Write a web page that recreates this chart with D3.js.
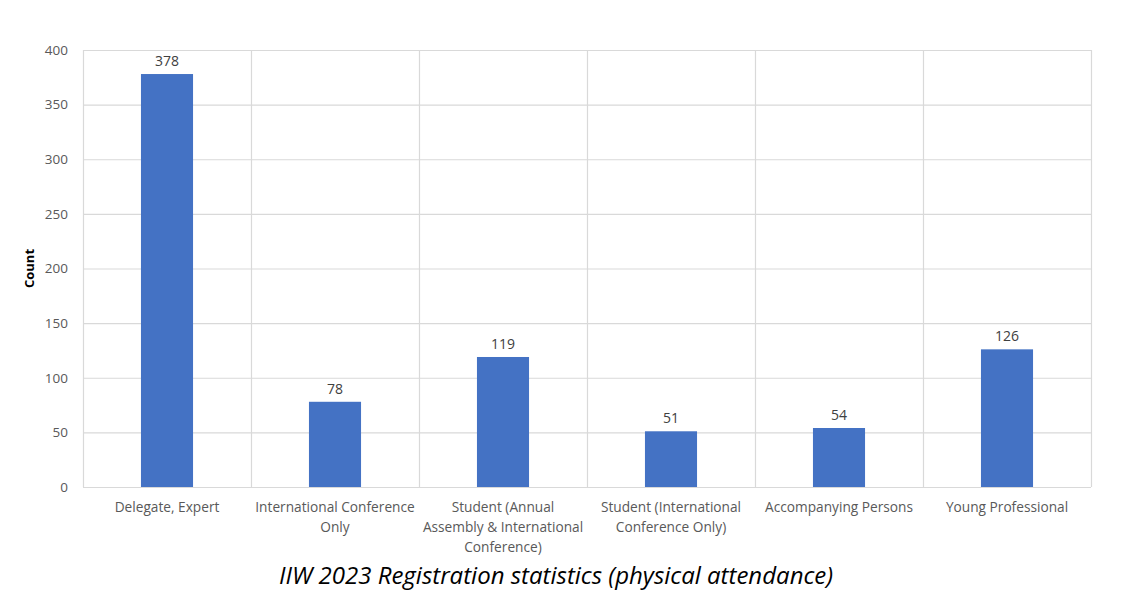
<!DOCTYPE html>
<html><head><meta charset="utf-8">
<script src="https://cdn.jsdelivr.net/npm/d3@7"></script>
<style>
html,body{margin:0;padding:0;background:#fff;}
svg{display:block;}
</style></head>
<body>
<svg id="chart" width="1126" height="595"></svg>
<script>
const categories = [
  "Delegate, Expert",
  "International Conference\nOnly",
  "Student (Annual\nAssembly & International\nConference)",
  "Student (International\nConference Only)",
  "Accompanying Persons",
  "Young Professional"
];
const counts = [378, 78, 119, 51, 54, 126];
const yTicks = [0, 50, 100, 150, 200, 250, 300, 350, 400];
const yTitle = "Count";
const caption = "IIW 2023 Registration statistics (physical attendance)";

const svg = d3.select("#chart");
const margin = {left: 83, top: 50, right: 1126 - 1091, bottom: 595 - 487};
const W = 1126 - margin.left - margin.right;
const H = 595 - margin.top - margin.bottom;
const g = svg.append("g").attr("transform", `translate(${margin.left},${margin.top})`);

const x = d3.scaleBand().domain(categories).range([0, W]).paddingInner(0).paddingOuter(0);
const y = d3.scaleLinear().domain([0, 400]).range([H, 0]);
const font = "'Open Sans', 'Segoe UI', sans-serif";

// horizontal gridlines
g.selectAll("line.hg").data(yTicks).enter().append("line")
  .attr("x1", 0).attr("x2", W)
  .attr("y1", d => y(d) + 0.5).attr("y2", d => y(d) + 0.5)
  .attr("stroke", "#d9d9d9").attr("stroke-width", 1.2);
// vertical gridlines at category boundaries
const bounds = categories.map(c => x(c)).concat([W]);
g.selectAll("line.vg").data(bounds).enter().append("line")
  .attr("x1", d => d + 0.5).attr("x2", d => d + 0.5)
  .attr("y1", 0).attr("y2", H)
  .attr("stroke", "#d9d9d9").attr("stroke-width", 1.2);

// bars
const barW = x.bandwidth() * 0.31;
g.selectAll("rect.bar").data(counts).enter().append("rect")
  .attr("x", (d, i) => x(categories[i]) + x.bandwidth() / 2 - barW / 2)
  .attr("y", d => y(d))
  .attr("width", barW)
  .attr("height", d => H - y(d))
  .attr("fill", "#4472C4");

// data labels
g.selectAll("text.val").data(counts).enter().append("text")
  .attr("x", (d, i) => x(categories[i]) + x.bandwidth() / 2)
  .attr("y", d => y(d) - 8)
  .attr("text-anchor", "middle")
  .attr("font-family", font).attr("font-size", 14)
  .attr("fill", "#404040")
  .text(d => d);

// y axis labels
const yAxis = d3.axisLeft(y).tickValues(yTicks).tickSize(0).tickPadding(15);
const ya = g.append("g").call(yAxis);
ya.select(".domain").remove();
ya.selectAll("text").attr("font-family", font).attr("font-size", 13.5).attr("fill", "#595959");

// x axis labels
const xAxis = d3.axisBottom(x).tickSize(0).tickPadding(0).tickFormat("");
const xa = g.append("g").attr("transform", `translate(0,${H})`).call(xAxis);
xa.select(".domain").remove();
xa.selectAll(".tick").each(function(c) {
  const t = d3.select(this).append("text")
    .attr("text-anchor", "middle")
    .attr("font-family", font).attr("font-size", 13.7)
    .attr("fill", "#595959");
  c.split("\n").forEach((line, i) => {
    t.append("tspan").attr("x", 0).attr("y", 25 + i * 20).text(line);
  });
});

// y title
svg.append("text")
  .attr("transform", `translate(34,${margin.top + H / 2}) rotate(-90)`)
  .attr("text-anchor", "middle")
  .attr("font-family", font).attr("font-size", 13).attr("font-weight", "bold")
  .attr("fill", "#000")
  .text(yTitle);

// caption
svg.append("text")
  .attr("x", 556).attr("y", 584)
  .attr("text-anchor", "middle")
  .attr("font-family", font).attr("font-size", 24).attr("font-style", "italic")
  .attr("fill", "#000")
  .text(caption);
</script>
</body></html>
